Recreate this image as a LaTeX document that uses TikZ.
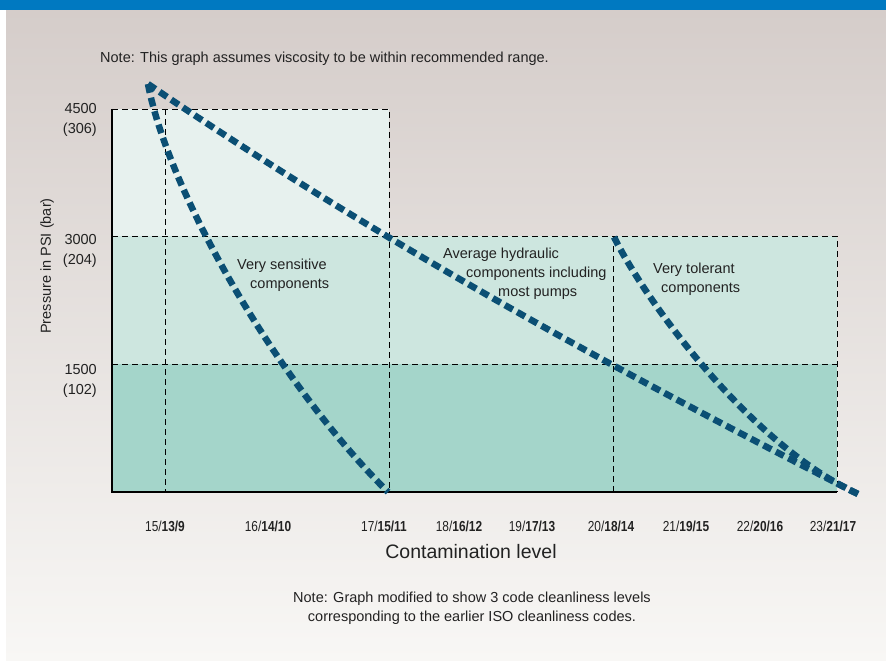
\documentclass[tikz,border=0pt]{standalone}
\usepackage{fontspec}
\setmainfont{Liberation Sans}
\newfontfamily\narrowfont[FakeStretch=0.82]{Liberation Sans}

\definecolor{barblue}{HTML}{0079C1}
\definecolor{bgtop}{HTML}{D5CDCA}
\definecolor{bgbottom}{HTML}{F8F7F5}
\definecolor{bandlight}{HTML}{E7F1EE}
\definecolor{bandmid}{HTML}{CDE6DF}
\definecolor{banddark}{HTML}{A4D5CA}
\definecolor{pipeblue}{HTML}{0B4F74}
\definecolor{inkgray}{HTML}{222222}

\begin{document}
\begin{tikzpicture}[x=1pt, y=-1pt,
      every node/.style = {inner sep=0pt, text=inkgray,
        font=\fontsize{14.5}{19}\selectfont},
      grid/.style = {black, line width=0.9pt, dash pattern=on 6pt off 4pt},
      axis/.style = {black, line width=2.6pt},
      pipe/.style = {pipeblue, line width=6.5pt, dash pattern=on 9pt off 5pt},
      level/.style = {font=\narrowfont\fontsize{14.5}{17}\selectfont}]
  \useasboundingbox (0,0) rectangle (886,663);
  \fill[white] (0,0) rectangle (886,663);
  \shade[top color=bgtop, bottom color=bgbottom] (6,10) rectangle (886,660);
  \fill[barblue] (0,0) rectangle (886,10);

  % pressure bands
  \fill[bandlight] (112,109) rectangle (389,236);
  \fill[bandmid] (112,236) rectangle (837,364);
  \fill[banddark] (112,364) rectangle (837,492);

  % dashed grid
  \draw[grid] (112,109) -- (389,109) -- (389,492);
  \draw[grid] (165,109) -- (165,492);
  \draw[grid] (112,236) -- (837,236) -- (837,492);
  \draw[grid] (112,364) -- (837,364);
  \draw[grid] (613,236) -- (613,492);
  \draw[axis] (112,109) -- (112,492) -- (837,492);

  % component curves
  \coordinate (peak) at (148,84);
  \coordinate (sensfoot) at (388,492);
  \coordinate (tolhead) at (614,237);
  \coordinate (tail) at (858,494);
  \draw[pipe] (peak) .. controls (168,190) and (275,380) .. (sensfoot);
  \draw[pipe] (peak) .. controls (385,245) and (621,373) .. (tail);
  \draw[pipe] (tolhead) .. controls (645,300) and (750,445) .. (tail);

  % texts
  \node[anchor=west] (note1) at (100,59)
    {Note: This graph assumes viscosity to be within recommended range.};
  \node[align=right, anchor=east, font=\fontsize{14.5}{20}\selectfont]
    (p4500) at (97,119.5) {4500\\(306)};
  \node[align=right, anchor=east, font=\fontsize{14.5}{20}\selectfont]
    (p3000) at (97,250.5) {3000\\(204)};
  \node[align=right, anchor=east, font=\fontsize{14.5}{20}\selectfont]
    (p1500) at (97,380.5) {1500\\(102)};
  \node[rotate=90] (ylabel) at (47,266) {Pressure in PSI (bar)};

  \node[align=left, anchor=west] (sens) at (237,275)
    {Very sensitive\\\hspace*{13pt}components};
  \node[align=left, anchor=west] (avg) at (443,274)
    {Average hydraulic\\\hspace*{23pt}components including\\\hspace*{55pt}most pumps};
  \node[align=left, anchor=west] (tol) at (653,279.5)
    {Very tolerant\\\hspace*{8pt}components};

  \foreach \x/\a/\b/\c in {165/15/13/9, 268/16/14/10, 384/17/15/11,
      459/18/16/12, 532/19/17/13, 611/20/18/14, 686/21/19/15,
      760/22/20/16, 833/23/21/17}
    \node[level] (lv\a) at (\x,526) {\a/\textbf{\b/\c}};

  \node[font=\fontsize{19.5}{22}\selectfont] (xlabel) at (471,552)
    {Contamination level};
  \node[align=center] (note2) at (472,608.5)
    {Note: Graph modified to show 3 code cleanliness levels\\
     corresponding to the earlier ISO cleanliness codes.};
\end{tikzpicture}
\end{document}
